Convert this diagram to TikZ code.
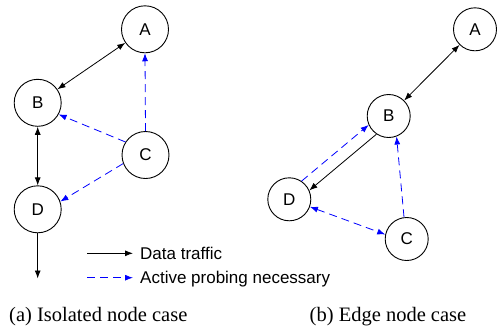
\documentclass[tikz,border=0pt]{standalone}
\usepackage{fontspec}
\setmainfont{Liberation Serif}
\newfontfamily\arialfont{Liberation Sans}
\usetikzlibrary{arrows.meta}
\begin{document}
\begin{tikzpicture}[x=1pt,y=-1pt,
    nd/.style={draw,circle,line width=0.9pt,inner sep=0pt,minimum size=47pt,
      font=\arialfont\fontsize{17}{20}\selectfont},
    ndr/.style={nd,minimum size=43pt},
    traffic/.style={line width=0.8pt,-{Latex[length=8pt,width=6pt]}},
    both/.style={traffic,{Latex[length=8pt,width=6pt]}-{Latex[length=8pt,width=6pt]}},
    probe/.style={traffic,blue,dash pattern=on 8pt off 5pt},
    probeboth/.style={both,blue,dash pattern=on 8pt off 5pt}]
    \useasboundingbox (0,0) rectangle (498,333);

    % (a) isolated node
    \node[nd] (a-A) at (145,29.3) {A};
    \node[nd] (a-B) at (37.7,102.8) {B};
    \node[nd] (a-C) at (145.5,155) {C};
    \node[nd] (a-D) at (37.7,209.3) {D};
    \coordinate (a-out) at (37.7,278.5);

    \draw[both] (a-A) -- (a-B);
    \draw[both] (a-B) -- (a-D);
    \draw[traffic] (a-D) -- (a-out);
    \draw[probe] (a-C.north) -- (a-A.south);
    \draw[probe] (a-C.147) -- (a-B.331);
    \draw[probe] (a-C.201) -- (a-D.19);

    % legend
    \coordinate (k1) at (87,253.3);
    \coordinate (k2) at (133,253.3);
    \coordinate (k3) at (87,277.7);
    \coordinate (k4) at (133,277.7);
    \draw[traffic] (k1) -- (k2);
    \draw[probe] (k3) -- (k4);
    \node[anchor=base west,inner sep=0pt,font=\arialfont\fontsize{17}{20}\selectfont]
      (leg-data) at (140,259.5) {Data traffic};
    \node[anchor=base west,inner sep=0pt,font=\arialfont\fontsize{17}{20}\selectfont]
      (leg-probe) at (140,283.5) {Active probing necessary};

    % (b) edge node
    \node[ndr] (b-A) at (475,29.3) {A};
    \node[ndr] (b-B) at (388.7,116) {B};
    \node[ndr] (b-D) at (289.3,199.3) {D};
    \node[ndr] (b-C) at (406.7,239) {C};

    \draw[both] (b-A) -- (b-B);
    \draw[traffic] (b-B.236) -- (b-D.24);
    \draw[probe] (b-D.56) -- (b-B.204);
    \draw[probe] (b-C.97) -- (b-B.291);
    \draw[probeboth] (b-D.340) -- (b-C.168);

    % captions
    \node[anchor=base,inner sep=0pt,font=\fontsize{20.5}{24}\selectfont]
      (cap-a) at (98.3,321.7) {(a) Isolated node case};
    \node[anchor=base,inner sep=0pt,font=\fontsize{20.5}{24}\selectfont]
      (cap-b) at (388,321.7) {(b) Edge node case};
\end{tikzpicture}
\end{document}
